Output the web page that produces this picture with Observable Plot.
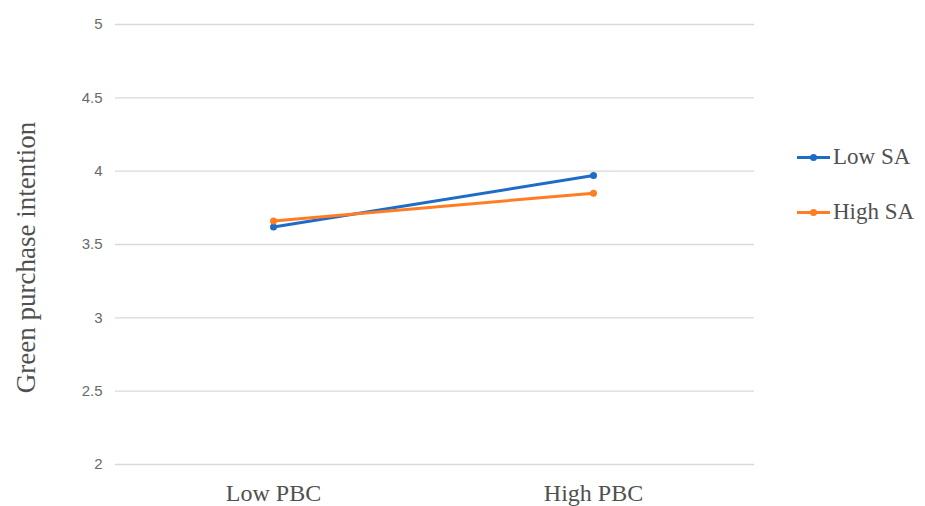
<!DOCTYPE html>
<html>
<head>
<meta charset="utf-8">
<script src="https://cdn.jsdelivr.net/npm/d3@7"></script>
<script src="https://cdn.jsdelivr.net/npm/@observablehq/plot@0.6"></script>
<style>
  html, body { margin: 0; padding: 0; background: #fff; }
  #wrap { position: relative; width: 925px; height: 506px; overflow: hidden; }
  .legend { position: absolute; left: 797px; font-family: "Liberation Serif", "Times New Roman", serif; font-size: 23px; color: #505050; display: flex; align-items: center; }
  .legend .sw { position: relative; width: 33px; height: 3px; margin-right: 3px; }
  .legend .sw i { position: absolute; left: 13px; top: -2px; width: 7px; height: 7px; border-radius: 50%; }
</style>
</head>
<body>
<div id="wrap"></div>
<script>
// Moderation plot: perceived behavioural control x self-accountability
const pbcLevels = ["Low PBC", "High PBC"];
const saGroups = ["Low SA", "High SA"];
const lowSA = [3.62, 3.97];
const highSA = [3.66, 3.85];
const yTicks = [2, 2.5, 3, 3.5, 4, 4.5, 5];
const seriesColors = ["#1f6cc7", "#ff7d24"];
const yTitle = "Green purchase intention";

const rows = [];
[lowSA, highSA].forEach((vals, s) =>
  vals.forEach((v, i) => rows.push({pbc: pbcLevels[i], sa: saGroups[s], value: v}))
);

const chart = Plot.plot({
  width: 925,
  height: 506,
  marginLeft: 112,
  marginRight: 172,
  marginTop: 24,
  marginBottom: 42,
  x: {type: "point", domain: pbcLevels, padding: 0.5},
  y: {domain: [2, 5]},
  color: {domain: saGroups, range: seriesColors},
  marks: [
    Plot.ruleY(yTicks, {stroke: "#d9d9d9", strokeWidth: 1.3, insetLeft: 3, insetRight: -1}),
    Plot.axisY(yTicks, {
      tickSize: 0, tickPadding: 10, label: null,
      tickFormat: d => String(d),
      fontSize: 15, fill: "#6a6a6a", fontFamily: "Liberation Sans, Arial, sans-serif"
    }),
    Plot.axisX({
      tickSize: 0, tickPadding: 19, label: null,
      fontSize: 24, fill: "#505050", fontFamily: "Liberation Serif, Times New Roman, serif"
    }),
    Plot.text([yTitle], {
      frameAnchor: "left", rotate: -90, dx: -86, dy: 13, lineAnchor: "middle", textAnchor: "middle",
      fontSize: 27, fill: "#505050", fontFamily: "Liberation Serif, Times New Roman, serif"
    }),
    Plot.line(rows, {x: "pbc", y: "value", z: "sa", stroke: "sa", strokeWidth: 3}),
    Plot.dot(rows, {x: "pbc", y: "value", fill: "sa", r: 3.5})
  ]
});

const wrap = document.getElementById("wrap");
wrap.appendChild(chart);

// legend to the right of the plot
const color = chart.scale("color");
const legendTops = [157, 212];
saGroups.forEach((g, i) => {
  const item = document.createElement("div");
  item.className = "legend";
  item.style.top = (legendTops[i] - 14) + "px";
  item.style.height = "28px";
  const c = color.range[color.domain.indexOf(g)];
  item.innerHTML = `<span class="sw" style="background:${c}"><i style="background:${c}"></i></span><span>${g}</span>`;
  wrap.appendChild(item);
});
</script>
</body>
</html>
